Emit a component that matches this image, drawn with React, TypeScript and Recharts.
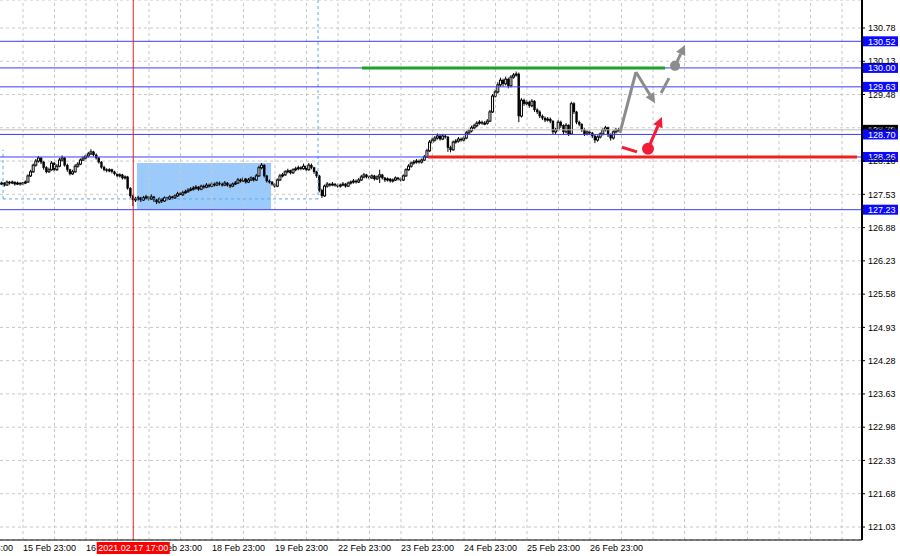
import React from 'react';
import {
  ComposedChart,
  Bar,
  XAxis,
  YAxis,
  CartesianGrid,
  ReferenceLine,
  ReferenceArea,
  ReferenceDot,
} from 'recharts';

// EUR/JPY H1, one candle per hour, index 0 = first visible bar
const firstOpen = 127.74;

const closes = [
  127.73, 127.75, 127.71, 127.77, 127.75, 127.77, 127.73, 127.75, 127.73, 127.75,
  127.77, 127.89, 127.97, 128.10, 128.18, 128.24, 128.16, 128.05, 127.97, 128.01,
  128.14, 128.01, 128.08, 128.20, 128.24, 128.10, 128.01, 127.93, 127.97, 128.08,
  128.12, 128.20, 128.24, 128.28, 128.32, 128.36, 128.30, 128.24, 128.16, 128.06,
  128.01, 127.99, 128.01, 127.97, 127.93, 127.89, 127.91, 127.85, 127.87, 127.65,
  127.50, 127.42, 127.44, 127.46, 127.42, 127.46, 127.48, 127.44, 127.48, 127.42,
  127.38, 127.44, 127.40, 127.46, 127.44, 127.48, 127.46, 127.50, 127.54, 127.52,
  127.56, 127.58, 127.61, 127.63, 127.65, 127.67, 127.63, 127.69, 127.67, 127.71,
  127.69, 127.73, 127.71, 127.75, 127.73, 127.71, 127.75, 127.71, 127.69, 127.73,
  127.75, 127.81, 127.79, 127.83, 127.77, 127.81, 127.85, 127.81, 127.89, 128.05,
  128.10, 127.89, 127.79, 127.77, 127.73, 127.69, 127.81, 127.89, 127.91, 127.97,
  127.99, 127.95, 128.01, 128.03, 128.05, 128.03, 128.08, 128.01, 128.10, 128.05,
  127.97, 127.89, 127.61, 127.50, 127.69, 127.73, 127.71, 127.73, 127.71, 127.69,
  127.71, 127.73, 127.69, 127.75, 127.77, 127.79, 127.77, 127.81, 127.87, 127.91,
  127.87, 127.85, 127.89, 127.83, 127.87, 127.91, 127.85, 127.81, 127.83, 127.79,
  127.81, 127.85, 127.83, 127.81, 127.89, 128.01, 128.08, 128.14, 128.16, 128.18,
  128.16, 128.20, 128.26, 128.38, 128.55, 128.59, 128.63, 128.67, 128.61, 128.67,
  128.65, 128.44, 128.40, 128.55, 128.57, 128.61, 128.59, 128.63, 128.73, 128.77,
  128.83, 128.87, 128.92, 128.94, 128.92, 128.92, 128.96, 129.14, 129.45, 129.53,
  129.67, 129.76, 129.69, 129.78, 129.65, 129.82, 129.86, 129.88, 129.06, 129.37,
  129.30, 129.33, 129.26, 129.35, 129.18, 129.14, 129.06, 129.02, 128.98, 129.00,
  128.96, 128.75, 128.79, 128.94, 128.87, 128.75, 128.88, 128.71, 129.30, 129.14,
  128.94, 128.90, 128.79, 128.71, 128.75, 128.73, 128.67, 128.59, 128.65, 128.71,
  128.79, 128.83, 128.69, 128.63, 128.75, 128.79, 128.79,
];

const highs = [
  127.77, 127.78, 127.77, 127.80, 127.79, 127.80, 127.78, 127.78, 127.77, 127.77,
  127.80, 127.92, 128.01, 128.13, 128.22, 128.28, 128.26, 128.18, 128.08, 128.05,
  128.18, 128.16, 128.12, 128.24, 128.29, 128.26, 128.13, 128.03, 128.01, 128.12,
  128.16, 128.23, 128.27, 128.31, 128.36, 128.41, 128.38, 128.33, 128.26, 128.18,
  128.09, 128.04, 128.04, 128.03, 127.99, 127.95, 127.94, 127.93, 127.90, 127.89,
  127.67, 127.52, 127.48, 127.50, 127.48, 127.50, 127.52, 127.50, 127.53, 127.50,
  127.44, 127.47, 127.46, 127.49, 127.48, 127.51, 127.50, 127.53, 127.58, 127.57,
  127.60, 127.62, 127.65, 127.67, 127.69, 127.71, 127.69, 127.72, 127.72, 127.75,
  127.74, 127.76, 127.76, 127.78, 127.78, 127.76, 127.79, 127.77, 127.74, 127.76,
  127.79, 127.85, 127.84, 127.87, 127.85, 127.85, 127.88, 127.87, 127.93, 128.09,
  128.14, 128.12, 127.91, 127.82, 127.79, 127.75, 127.84, 127.93, 127.95, 128.00,
  128.03, 128.01, 128.04, 128.07, 128.09, 128.08, 128.13, 128.10, 128.14, 128.13,
  128.07, 127.99, 127.91, 127.64, 127.72, 127.77, 127.75, 127.77, 127.75, 127.74,
  127.74, 127.77, 127.75, 127.78, 127.80, 127.83, 127.82, 127.85, 127.91, 127.95,
  127.93, 127.90, 127.92, 127.91, 127.90, 128.01, 127.93, 127.87, 127.86, 127.85,
  127.84, 127.88, 127.87, 127.86, 127.92, 128.04, 128.12, 128.17, 128.20, 128.22,
  128.21, 128.23, 128.30, 128.42, 128.59, 128.64, 128.67, 128.72, 128.70, 128.71,
  128.70, 128.67, 128.48, 128.58, 128.61, 128.65, 128.64, 128.67, 128.77, 128.81,
  128.87, 128.91, 128.96, 128.98, 128.97, 128.96, 129.00, 129.18, 129.49, 129.58,
  129.72, 129.81, 129.79, 129.83, 129.81, 129.86, 129.90, 129.93, 129.91, 129.41,
  129.40, 129.37, 129.36, 129.39, 129.37, 129.21, 129.17, 129.09, 129.05, 129.04,
  129.03, 128.98, 128.83, 128.98, 128.97, 128.90, 128.92, 128.90, 129.34, 129.33,
  129.16, 128.97, 128.92, 128.82, 128.78, 128.78, 128.75, 128.69, 128.68, 128.74,
  128.82, 128.87, 128.85, 128.72, 128.78, 128.83, 128.82,
];

const lows = [
  127.70, 127.71, 127.68, 127.70, 127.72, 127.73, 127.70, 127.71, 127.70, 127.71,
  127.73, 127.76, 127.87, 127.95, 128.07, 128.15, 128.12, 128.01, 127.94, 127.95,
  127.99, 127.97, 127.99, 128.06, 128.17, 128.07, 127.97, 127.90, 127.91, 127.95,
  128.05, 128.10, 128.18, 128.21, 128.25, 128.30, 128.27, 128.21, 128.13, 128.03,
  127.98, 127.96, 127.96, 127.94, 127.90, 127.86, 127.86, 127.82, 127.82, 127.62,
  127.46, 127.30, 127.38, 127.41, 127.38, 127.40, 127.43, 127.41, 127.42, 127.38,
  127.34, 127.35, 127.36, 127.38, 127.41, 127.42, 127.43, 127.44, 127.48, 127.49,
  127.50, 127.54, 127.56, 127.59, 127.60, 127.62, 127.60, 127.61, 127.64, 127.65,
  127.66, 127.67, 127.68, 127.69, 127.70, 127.68, 127.69, 127.68, 127.65, 127.67,
  127.71, 127.73, 127.76, 127.77, 127.74, 127.75, 127.79, 127.78, 127.79, 127.87,
  128.02, 127.86, 127.76, 127.74, 127.70, 127.66, 127.67, 127.79, 127.86, 127.89,
  127.94, 127.92, 127.93, 127.98, 128.00, 128.00, 128.01, 127.98, 127.99, 128.02,
  127.93, 127.85, 127.57, 127.46, 127.48, 127.66, 127.68, 127.69, 127.68, 127.66,
  127.66, 127.69, 127.66, 127.67, 127.72, 127.74, 127.74, 127.75, 127.79, 127.84,
  127.84, 127.82, 127.83, 127.80, 127.81, 127.75, 127.82, 127.77, 127.78, 127.76,
  127.76, 127.79, 127.80, 127.78, 127.79, 127.87, 127.99, 128.05, 128.11, 128.13,
  128.13, 128.13, 128.18, 128.24, 128.36, 128.52, 128.56, 128.60, 128.58, 128.59,
  128.62, 128.36, 128.35, 128.38, 128.52, 128.54, 128.56, 128.56, 128.61, 128.70,
  128.74, 128.80, 128.84, 128.89, 128.89, 128.88, 128.89, 128.94, 129.12, 129.42,
  129.50, 129.63, 129.64, 129.66, 129.60, 129.62, 129.79, 129.83, 128.94, 129.03,
  129.26, 129.27, 129.22, 129.23, 129.14, 129.10, 129.02, 128.98, 128.94, 128.95,
  128.92, 128.70, 128.71, 128.76, 128.83, 128.70, 128.72, 128.67, 128.69, 129.10,
  128.90, 128.86, 128.75, 128.67, 128.68, 128.69, 128.63, 128.53, 128.56, 128.62,
  128.68, 128.76, 128.65, 128.58, 128.60, 128.72, 128.76,
];

// axis ticks
const dayTicks = [9, 33, 57, 81, 105, 129, 153, 177, 201, 225];
const dayLabels = [
  '15 Feb 23:00', '16 Feb 23:00', '17 Feb 23:00', '18 Feb 23:00', '19 Feb 23:00',
  '22 Feb 23:00', '23 Feb 23:00', '24 Feb 23:00', '25 Feb 23:00', '26 Feb 23:00',
];
const prevDayLabel = '12 Feb 23:00';
const gridX = [9, 21, 33, 45, 57, 69, 81, 93, 105, 117, 129, 141, 153, 165, 177, 189, 201, 213, 225, 237, 249, 261, 273, 285, 297, 309, 321];
const yTicks = [121.03, 121.68, 122.33, 122.98, 123.63, 124.28, 124.93, 125.58, 126.23, 126.88, 127.53, 128.18, 128.83, 129.48, 130.13, 130.78];

// crosshair
const crossIndex = 51;
const crossLabel = '2021.02.17 17:00';

// horizontal levels
const levels = [130.52, 130.0, 129.63, 128.7, 128.26, 127.23];
const bidPrice = 128.79;

// drawn objects
const targetLevel = { price: 130.0, from: 138.1, to: 253.6 };
const stopLevel = { price: 128.26, from: 163.3, to: 326.7 };
const rangeBox = { x1: 52.4, x2: 103.5, y1: 127.24, y2: 128.14 };
const rangeFrame = { left: 1.4, right: 121.4, bottom: 127.44, top: 128.4 };
const grayPath = [
  { x: 236.4, y: 128.73 },
  { x: 242.5, y: 129.92 },
  { x: 249.8, y: 129.31 },
];
const grayDash = [{ x: 252.1, y: 129.51 }, { x: 255.1, y: 129.8 }];
const grayDot = { x: 257.4, y: 130.04 };
const grayArrowEnd = { x: 261.2, y: 130.45 };
const redDash = [{ x: 237.2, y: 128.45 }, { x: 242.9, y: 128.36 }];
const redDot = { x: 247.1, y: 128.42 };
const redArrowEnd = { x: 252.4, y: 129.04 };

const X_DOMAIN: [number, number] = [0.238, 328.62];
const Y_DOMAIN: [number, number] = [120.776, 131.327];

const BLUE = '#3b3bff';
const GRAY = '#8c8c8c';
const RED = '#f01c38';
const FONT = 9;

const candles = closes.map((c, i) => {
  const o = i === 0 ? firstOpen : closes[i - 1];
  return { i, o, c, h: highs[i], l: lows[i], range: [lows[i], highs[i]] };
});

function Candle(props: any) {
  const { x, y, width, height, payload } = props;
  if (!payload) return null;
  const cx = x + width / 2;
  const span = payload.h - payload.l || 0.01;
  const k = height / span;
  const yo = y + (payload.h - payload.o) * k;
  const yc = y + (payload.h - payload.c) * k;
  const top = Math.min(yo, yc);
  const bh = Math.max(Math.abs(yo - yc), 1);
  const up = payload.c >= payload.o;
  return (
    <g>
      <line x1={cx} x2={cx} y1={y} y2={y + height} stroke="#000" strokeWidth={1} />
      <rect
        x={cx - 1}
        y={top}
        width={2}
        height={bh}
        fill={up ? '#fff' : '#000'}
        stroke="#000"
        strokeWidth={up ? 1 : 0.4}
      />
    </g>
  );
}

const arrow = (color: string) => (p: any) => {
  const { x1, y1, x2, y2 } = p;
  const a = Math.atan2(y2 - y1, x2 - x1);
  const L = 10;
  const W = 5;
  const bx = x2 - L * Math.cos(a);
  const by = y2 - L * Math.sin(a);
  const px = -Math.sin(a) * W;
  const py = Math.cos(a) * W;
  return (
    <g>
      <line x1={x1} y1={y1} x2={bx} y2={by} stroke={color} strokeWidth={3} />
      <polygon points={`${x2},${y2} ${bx + px},${by + py} ${bx - px},${by - py}`} fill={color} />
    </g>
  );
};

const priceTag = (text: string, bg: string) => (p: any) => {
  const vb = p.viewBox;
  if (!vb) return null;
  const left = vb.x + vb.width + 1;
  return (
    <g>
      <rect x={left} y={vb.y - 5} width={35} height={10} fill={bg} />
      <text x={left + 5} y={vb.y + 3.3} fontSize={FONT} fill="#fff">
        {text}
      </text>
    </g>
  );
};

function DayTick(props: any) {
  const { x, y, payload } = props;
  const v = payload.value;
  if (v === crossIndex) {
    return (
      <g>
        <rect x={x - 36.5} y={y + 2} width={73} height={12} fill="#ff0000" />
        <text x={x} y={y + 11} textAnchor="middle" fontSize={FONT} fill="#fff">
          {crossLabel}
        </text>
      </g>
    );
  }
  const k = dayTicks.indexOf(v);
  return (
    <g>
      <text x={x} y={y + 10.5} fontSize={FONT} fill="#000">
        {dayLabels[k]}
      </text>
      {k === 0 && (
        <text x={x - 63} y={y + 10.5} fontSize={FONT} fill="#000">
          {prevDayLabel}
        </text>
      )}
    </g>
  );
}

export default function App() {
  return (
    <div
      style={{
        position: 'absolute',
        left: 0,
        top: 0,
        width: 900,
        height: 556,
        background: '#fff',
        fontFamily: '"Liberation Sans", Arial, sans-serif',
      }}
    >
      <ComposedChart width={900} height={556} data={candles} margin={{ top: 0, right: 0, bottom: 0, left: 0 }}>
        <CartesianGrid stroke="#c8c8c8" strokeDasharray="3 3" vertical={false} />
        {gridX.map((g) => (
          <ReferenceLine key={'g' + g} x={g} stroke="#c8c8c8" strokeDasharray="3 3" />
        ))}
        <ReferenceArea
          x1={rangeBox.x1}
          x2={rangeBox.x2}
          y1={rangeBox.y1}
          y2={rangeBox.y2}
          fill="#9ccbfb"
          fillOpacity={1}
          stroke="none"
        />
        <ReferenceLine
          segment={[{ x: rangeFrame.right, y: Y_DOMAIN[1] }, { x: rangeFrame.right, y: rangeFrame.bottom }]}
          stroke="#5aaaf0"
          strokeDasharray="3 3"
        />
        <ReferenceLine
          segment={[{ x: rangeFrame.left, y: rangeFrame.bottom }, { x: rangeFrame.right, y: rangeFrame.bottom }]}
          stroke="#5aaaf0"
          strokeDasharray="3 3"
        />
        <ReferenceLine
          segment={[{ x: rangeFrame.left, y: rangeFrame.bottom }, { x: rangeFrame.left, y: rangeFrame.top }]}
          stroke="#5aaaf0"
          strokeDasharray="3 3"
        />
        <ReferenceLine y={bidPrice} stroke="#c0c0c0" label={priceTag(bidPrice.toFixed(2), '#000')} />
        {levels.map((lv) => (
          <ReferenceLine key={'l' + lv} y={lv} stroke={BLUE} label={priceTag(lv.toFixed(2), '#0a0aff')} />
        ))}
        <Bar dataKey="range" barSize={2} shape={Candle} isAnimationActive={false} />
        <ReferenceLine
          segment={[{ x: targetLevel.from, y: targetLevel.price }, { x: targetLevel.to, y: targetLevel.price }]}
          stroke="#1fa12a"
          strokeWidth={3}
        />
        <ReferenceLine
          segment={[{ x: stopLevel.from, y: stopLevel.price }, { x: stopLevel.to, y: stopLevel.price }]}
          stroke="#f02020"
          strokeWidth={3}
        />
        <ReferenceLine segment={[grayPath[0], grayPath[1]]} stroke={GRAY} strokeWidth={3} />
        <ReferenceLine segment={[grayPath[1], grayPath[2]]} stroke={GRAY} shape={arrow(GRAY)} />
        <ReferenceLine segment={[grayDash[0], grayDash[1]]} stroke={GRAY} strokeWidth={3} />
        <ReferenceLine segment={[grayDot, grayArrowEnd]} stroke={GRAY} shape={arrow(GRAY)} />
        <ReferenceDot x={grayDot.x} y={grayDot.y} r={5} fill={GRAY} stroke="none" />
        <ReferenceLine segment={[redDash[0], redDash[1]]} stroke={RED} strokeWidth={3} />
        <ReferenceLine segment={[redDot, redArrowEnd]} stroke={RED} shape={arrow(RED)} />
        <ReferenceDot x={redDot.x} y={redDot.y} r={6} fill={RED} stroke="none" />
        <ReferenceLine x={crossIndex} stroke="#e82020" />
        <XAxis
          dataKey="i"
          type="number"
          domain={X_DOMAIN}
          allowDataOverflow
          ticks={[...dayTicks, crossIndex]}
          interval={0}
          tick={<DayTick />}
          tickLine={false}
          tickSize={0}
          tickMargin={0}
          height={16}
          axisLine={{ stroke: '#000' }}
        />
        <YAxis
          orientation="right"
          width={38}
          type="number"
          domain={Y_DOMAIN}
          allowDataOverflow
          ticks={yTicks}
          interval={0}
          tickFormatter={(v: number) => v.toFixed(2)}
          tick={{ fill: '#000', fontSize: FONT }}
          tickSize={3}
          tickMargin={3}
          tickLine={{ stroke: '#000' }}
          axisLine={{ stroke: '#000', strokeWidth: 2 }}
        />
      </ComposedChart>
    </div>
  );
}
